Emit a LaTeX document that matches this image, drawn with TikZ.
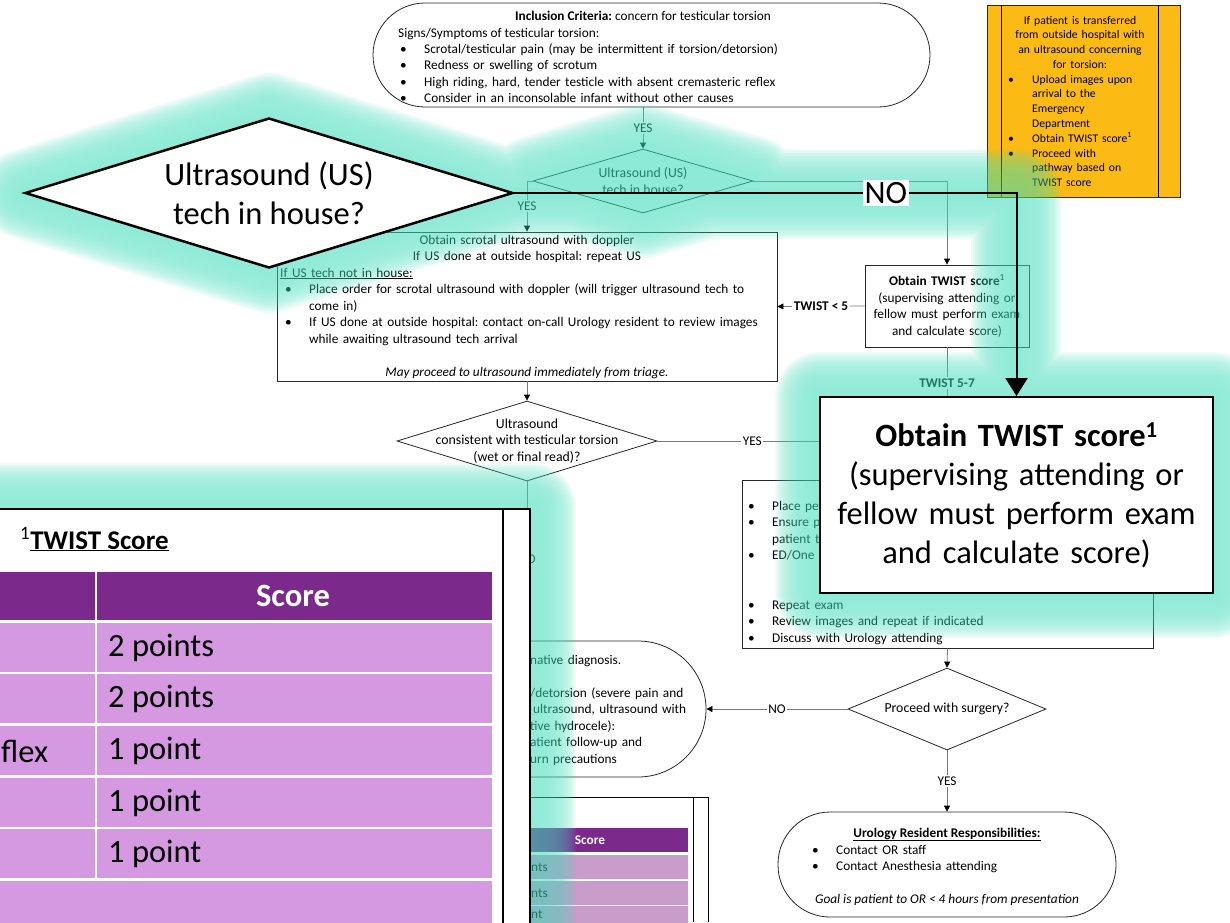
\documentclass[tikz,border=0pt]{standalone}
\usepackage{fontspec}
\setmainfont{Carlito}
\frenchspacing
\usetikzlibrary{positioning,arrows.meta,shapes.geometric}

\definecolor{glowteal}{RGB}{60,220,185}
\definecolor{linegray}{RGB}{120,120,120}
\definecolor{notebg}{RGB}{252,186,20}
\definecolor{hdrpurple}{RGB}{123,42,140}
\definecolor{rowpink}{RGB}{212,153,224}
\definecolor{rowpinksm}{RGB}{201,156,201}

\newcommand{\fsm}{\fontsize{13.3}{16.5}\selectfont}
\newcommand{\fdec}{\fontsize{13.8}{16.5}\selectfont}
\newcommand{\fnote}{\fontsize{11.7}{14.8}\selectfont}
\newcommand{\fbig}{\fontsize{32.5}{39}\selectfont}
\newcommand{\bul}{\makebox[24pt][l]{\textbullet}}
\newcommand{\ind}{\hspace*{24pt}}

\tikzset{
  flow/.style={draw=linegray, line width=0.8pt},
  flowarrow/.style={flow, -{Triangle[width=6pt,length=6pt,color=black]}},
  box/.style={draw=black!85, line width=0.8pt, rectangle, inner sep=0pt},
  term/.style={box, rounded corners=#1},
  decision/.style={draw=black!85, line width=0.8pt, diamond, inner sep=0pt},
  txt/.style={inner sep=0pt, align=left, font=\fsm},
  lbl/.style={fill=white, inner sep=1.5pt, font=\fsm},
  callout/.style={draw=black, line width=2pt, fill=white, inner sep=0pt},
}

\begin{document}
\begin{tikzpicture}[x=1pt, y=-1pt]
\useasboundingbox (0,0) rectangle (1230,922);
\clip (0,0) rectangle (1230,922);
\fill[white] (0,0) rectangle (1230,922);

% Pathway underneath
\node[term=52pt, minimum width=557pt, minimum height=104pt] (incl) at (651.5,55) {};
\node[txt, anchor=base] (incltitle) at (643,20) {\textbf{Inclusion Criteria:} concern for testicular torsion};
\node[txt, anchor=base west] (inclsigns) at (398,37) {Signs/Symptoms of testicular torsion:};
\node[txt, text width=510pt, anchor=base west] (inclbul) at (400,53) {\bul Scrotal/testicular pain (may be intermittent if torsion/detorsion)\\
  \bul Redness or swelling of scrotum\\
  \bul High riding, hard, tender testicle with absent cremasteric reflex\\
  \bul Consider in an inconsolable infant without other causes};

\node[decision, minimum width=220pt, minimum height=64pt] (dec1) at (643,181) {};
\node[txt, align=center, font=\fdec] (dec1txt) at (dec1) {Ultrasound (US)\\tech in house?};

\node[box, minimum width=500pt, minimum height=149pt] (usbox) at (527,306.5) {};
\node[txt, text width=480pt, align=center, anchor=base] (ustitle) at (527,244) {Obtain scrotal ultrasound with doppler\\If US done at outside hospital: repeat US};
\node[txt, text width=494pt, anchor=base west] (usbody) at (280,277) {\underline{If US tech not in house:}\\
  \hspace*{5pt}\bul Place order for scrotal ultrasound with doppler (will trigger ultrasound tech to\\
  \hspace*{5pt}\ind come in)\\
  \hspace*{5pt}\bul If US done at outside hospital: contact on-call Urology resident to review images\\
  \hspace*{5pt}\ind while awaiting ultrasound tech arrival};
\node[txt, anchor=base] (usnote) at (527,376) {\textit{May proceed to ultrasound immediately from triage.}};

\node[box, minimum width=164pt, minimum height=82pt, text width=162pt, align=center, font=\fsm] (twsm) at (947,306) {\textbf{Obtain TWIST score}\textsuperscript{1}\\(supervising attending or\\fellow must perform exam\\and calculate score)};

\node[decision, minimum width=260pt, minimum height=80pt] (dec2) at (527,441) {};
\node[txt, align=center, font=\fdec] (dec2txt) at (dec2) {Ultrasound\\consistent with testicular torsion\\(wet or final read)?};

\node[box, minimum width=411pt, minimum height=168pt] (mgmt) at (947.5,564) {};
\node[txt, text width=300pt, anchor=base west] (mgmttop) at (748,510) {\bul Place pe\\ \bul Ensure p\\ \ind patient t\\ \bul ED/One};
\node[txt, text width=390pt, anchor=base west] (mgmtbot) at (748,609) {\bul Repeat exam\\ \bul Review images and repeat if indicated\\ \bul Discuss with Urology attending};

\node[decision, minimum width=198pt, minimum height=82pt] (dec3) at (947,709) {};
\node[txt, font=\fdec] (dec3txt) at (dec3) {Proceed with surgery?};

\node[term=68pt, minimum width=266pt, minimum height=136pt] (alt) at (573,709) {};
\node[txt, text width=200pt, anchor=base west] (alttxt) at (530,664) {native diagnosis.\\ \mbox{}\\ /detorsion (severe pain and\\ \hspace*{3pt}ultrasound, ultrasound with\\ tive hydrocele):\\ atient follow-up and\\ urn precautions};

\node[term=52pt, minimum width=338pt, minimum height=105pt] (uro) at (947,864.5) {};
\node[txt, anchor=base] (urotitle) at (947,837) {\textbf{\underline{Urology Resident Responsibilities:}}};
\node[txt, text width=250pt, anchor=base west] (urobul) at (812,854) {\bul Contact OR staff\\ \bul Contact Anesthesia attending};
\node[txt, anchor=base] (urogoal) at (947,903) {\textit{Goal is patient to OR < 4 hours from presentation}};

% transfer note
\node[box, fill=notebg, minimum width=193pt, minimum height=192pt] (note) at (1083.5,101) {};
\draw[line width=0.8pt] ([xshift=15pt]note.north west) -- ([xshift=15pt]note.south west);
\draw[line width=0.8pt] ([xshift=-22pt]note.north east) -- ([xshift=-22pt]note.south east);
\node[txt, text width=154pt, align=center, anchor=base, font=\fnote] (notehead) at (1080,24) {If patient is transferred\\from outside hospital with\\an ultrasound concerning\\for torsion:};
\node[txt, text width=150pt, anchor=base west, font=\fnote] (notebul) at (1008,83) {\bul Upload images upon\\ \ind arrival to the\\ \ind Emergency\\ \ind Department\\ \bul Obtain TWIST score\textsuperscript{1}\\ \bul Proceed with\\ \ind pathway based on\\ \ind TWIST score};

% small score table
\draw[line width=0.8pt] (531,797) -| (708,922);
\draw[line width=0.8pt] (693,797) -- (693,922);
\fill[hdrpurple] (531,828) rectangle (688,852);
\node[white, font=\fsm\bfseries] (smscore) at (590,840) {Score};
\foreach \rtop/\frag [count=\i] in {855/nts,881/nts,906/nt} {
  \fill[rowpinksm] (531,\rtop) rectangle (688,\rtop+24);
}
\foreach \ty/\frag [count=\i] in {867/nts,893/nts,914/nt} {
  \node[txt, anchor=west] (smrow\i) at (531,\ty) {\frag};
}

% connectors
\draw[flowarrow] (dec1.north |- incl.south) -- node[lbl] (yes1) {YES} (dec1.north);
\draw[flowarrow] (dec1.east) -| (twsm.north);
\draw[flowarrow] (dec1.west) -| node[lbl, pos=0.75] (yes2) {YES} (usbox.north);
\draw[flowarrow] (usbox.south) -- (dec2.north);
\draw[flowarrow] (twsm.west) -- node[lbl, font=\fsm\bfseries] (tw5) {TWIST < 5} (usbox.east);
\coordinate (twmid) at (947,430);
\draw[flow] (twsm.south) -- node[lbl, font=\fsm\bfseries, pos=0.43] (tw57) {TWIST 5-7} (twmid);
\coordinate (yesright) at (840,441);
\draw[flow] (dec2.east) -- node[lbl, pos=0.52] (yes3) {YES} (yesright);
\coordinate (nodown) at (527,600);
\draw[flow] (dec2.south) -- node[lbl, pos=0.66] (no1) {NO} (nodown);
\draw[flowarrow] (mgmt.south) -- (dec3.north);
\draw[flowarrow] (dec3.west) -- node[lbl] (no2) {NO} (alt.east);
\draw[flowarrow] (dec3.south) -- node[lbl] (yes4) {YES} (uro.north);

% highlight glow
\begin{scope}[transparency group, opacity=0.58]
  \foreach \w in {6,10,...,90} {
    \draw[glowteal, opacity=0.15, line width=\w, line join=round]
      (25,194) -- (269,118) -- (513,194) -- (269,268) -- cycle
      (513,194) -- (1016,194) -- (1016,397)
      (533,181) -- (643,149) -- (753,181) -- (643,213) -- cycle
      (820,397) rectangle (1213,593)
      (-20,508) rectangle (531,940);
  }
  \fill[glowteal] (25,194) -- (269,118) -- (513,194) -- (269,268) -- cycle
    (533,181) -- (643,149) -- (753,181) -- (643,213) -- cycle
    (820,397) rectangle (1213,593)
    (-20,508) rectangle (531,940);
  \draw[glowteal, line width=12] (513,194) -- (1016,194) -- (1016,397);
\end{scope}

% zoomed callouts
\node[callout, minimum width=393pt, minimum height=196pt, text width=385pt, align=center, font=\fbig] (twbig) at (1016.5,495) {\textbf{Obtain TWIST score\textsuperscript{1}}\\(supervising attending or\\fellow must perform exam\\and calculate score)};

\node[callout, diamond, minimum width=488pt, minimum height=150pt, line width=2.5pt] (bigq) at (269,193) {};
\node[font=\fbig, align=center, inner sep=0pt] (bigqtxt) at (bigq) {Ultrasound (US)\\tech in house?};
\draw[line width=2pt, -{Triangle[width=22pt,length=18pt]}] (bigq.east) -| node[pos=0.37, fill=white, inner sep=2pt, font=\fbig] (nolbl) {NO} (twbig.north);

\node[callout, anchor=north east, minimum width=545pt, minimum height=420pt] (tbl) at (531,508) {};
\draw[line width=1.5pt] ([xshift=-28pt]tbl.north east) -- ([xshift=-28pt]tbl.south east);
\node[anchor=base west, inner sep=0pt, font=\fontsize{27}{32}\selectfont] (tbltitle) at (20,549) {\textsuperscript{1}\textbf{\underline{TWIST Score}}};
\fill[hdrpurple] (-5,572) rectangle (95,620);
\fill[hdrpurple] (97,572) rectangle (492,620);
\node[white, font=\fbig\bfseries] (hdrscore) at (293,596) {Score};
\foreach \rtop/\pts [count=\i] in {623/2 points,674/2 points,726/1 point,778/1 point,829/1 point} {
  \fill[rowpink] (-5,\rtop) rectangle (95,\rtop+49);
  \fill[rowpink] (97,\rtop) rectangle (492,\rtop+49);
  \node[anchor=west, inner sep=0pt, font=\fbig] (pts\i) at (108,\rtop+25) {\pts};
}
\fill[rowpink] (-5,881) rectangle (492,930);
\node[anchor=west, inner sep=0pt, font=\fbig] (flexcell) at (1,751) {flex};
\end{tikzpicture}
\end{document}
